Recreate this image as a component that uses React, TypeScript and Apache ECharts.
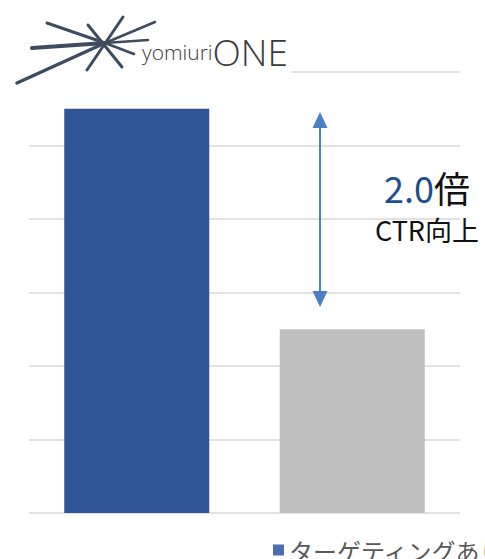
import React, { useEffect, useRef } from "react";
import * as echarts from "echarts";

const categories = ["ターゲティングあり", "ターゲティングなし"];
const values = [5.5, 2.5];
const barColors = ["#2f5597", "#bfbfbf"];
const yTicks = [0, 1, 2, 3, 4, 5, 6];
const seriesName = "ターゲティングあり";
const ratioLabel = "2.0";
const ratioUnit = "倍";
const subLabel = "CTR向上";

export default function App() {
  const ref = useRef<HTMLDivElement>(null);
  useEffect(() => {
    const chart = echarts.init(ref.current!, null, { renderer: "svg" });
    const C: [number, number] = [105, 43];
    const logoColor = "#3f4c60";
    const seg = (a: number[], b: number[], w: number) => ({
      type: "line",
      z: 20,
      shape: { x1: a[0], y1: a[1], x2: b[0], y2: b[1] },
      style: { stroke: logoColor, lineWidth: w, lineCap: "round" },
    });
    chart.setOption({
      animation: false,
      grid: { left: 29, right: 25, top: 72, bottom: 46 },
      xAxis: {
        type: "category",
        data: categories,
        axisLabel: { show: false },
        axisLine: { show: false },
        axisTick: { show: false },
      },
      yAxis: {
        type: "value",
        min: yTicks[0],
        max: yTicks[yTicks.length - 1],
        interval: 1,
        axisLabel: { show: false },
        splitLine: { lineStyle: { color: "#d9d9d9", width: 1.5 } },
      },
      legend: {
        data: [{ name: seriesName, itemStyle: { color: "#4a6db3" } }],
        left: 268,
        top: 533,
        icon: "rect",
        itemWidth: 11,
        itemHeight: 11,
        textStyle: {
          fontSize: 24,
          color: "#595959",
          fontFamily: "Noto Sans CJK JP",
        },
      },
      series: [
        {
          name: seriesName,
          type: "bar",
          barWidth: 145,
          itemStyle: { color: barColors[0] },
          data: values.map((v, i) => ({ value: v, itemStyle: { color: barColors[i] } })),
        },
      ],
      graphic: [
        {
          type: "rect",
          z: 10,
          shape: { x: 12, y: 8, width: 279, height: 82 },
          style: { fill: "#ffffff" },
        },
        seg([17, 83], C, 3.5),
        seg([47, 23], C, 3),
        seg([32, 48], C, 4),
        seg([88, 25], [122, 67], 3),
        seg([123, 17], [87, 70], 3),
        seg(C, [155, 22], 2.5),
        seg(C, [148, 40], 2.5),
        seg(C, [134, 54], 2.5),
        {
          type: "text",
          z: 20,
          x: 142,
          y: 70,
          style: {
            text: "{a|yomiuri}{b|ONE}",
            verticalAlign: "bottom",
            rich: {
              a: { fontSize: 21, fill: "#3a3a3a", fontFamily: "Open Sans", fontWeight: 300, color: "#3a3a3a" },
              b: { fontSize: 37, fill: "#3a3a3a", fontFamily: "Open Sans", fontWeight: 300, color: "#3a3a3a" },
            },
          },
        },
        {
          type: "line",
          z: 20,
          shape: { x1: 320, y1: 125, x2: 320, y2: 295 },
          style: { stroke: "#4a7fc1", lineWidth: 2 },
        },
        {
          type: "polygon",
          z: 20,
          shape: { points: [[320, 112], [312.5, 128], [327.5, 128]] },
          style: { fill: "#4a7fc1" },
        },
        {
          type: "polygon",
          z: 20,
          shape: { points: [[320, 307], [312.5, 291], [327.5, 291]] },
          style: { fill: "#4a7fc1" },
        },
        {
          type: "text",
          z: 20,
          x: 427,
          y: 187,
          style: {
            text: "{n|" + ratioLabel + "}{u|" + ratioUnit + "}",
            align: "center",
            verticalAlign: "middle",
            rich: {
              n: { fontSize: 36, lineHeight: 36, color: "#1f4e8c", fill: "#1f4e8c", fontFamily: "Noto Sans CJK JP" },
              u: { fontSize: 36, lineHeight: 36, color: "#111111", fill: "#111111", fontFamily: "Noto Sans CJK JP" },
            },
          },
        },
        {
          type: "text",
          z: 20,
          x: 427,
          y: 229,
          style: {
            text: subLabel,
            align: "center",
            verticalAlign: "middle",
            fontSize: 27,
            lineHeight: 27,
            fill: "#111111",
            fontFamily: "Noto Sans CJK JP",
          },
        },
      ],
    });
    return () => chart.dispose();
  }, []);
  return <div ref={ref} style={{ width: 485, height: 559, position: "absolute", left: 0, top: 0 }} />;
}
